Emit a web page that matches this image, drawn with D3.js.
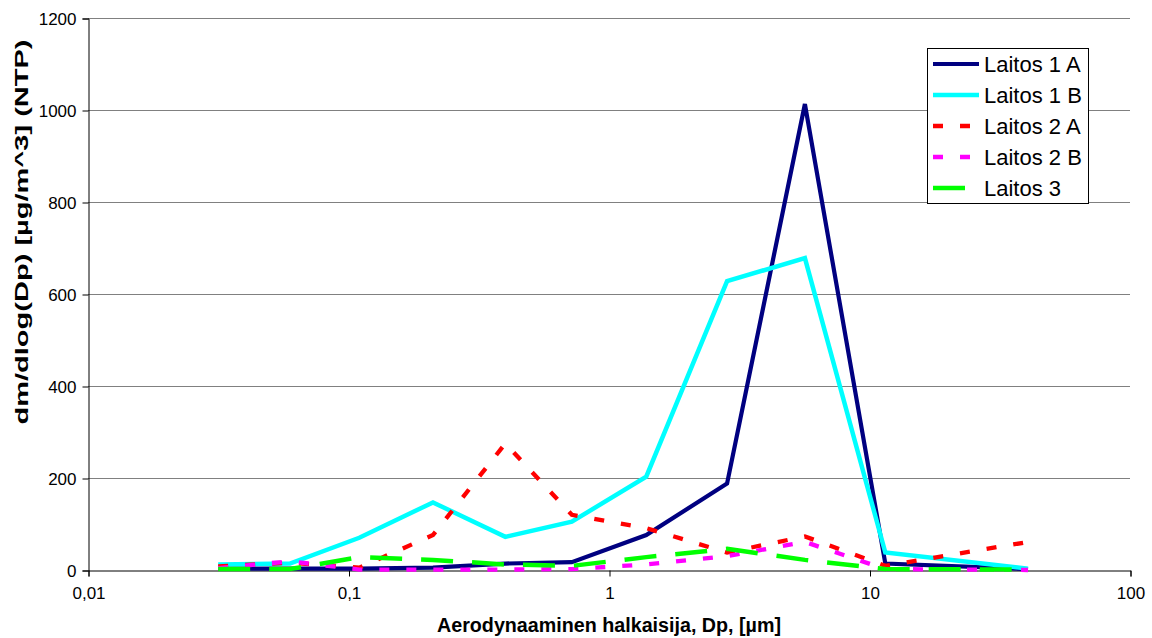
<!DOCTYPE html>
<html><head><meta charset="utf-8">
<script src="https://cdn.jsdelivr.net/npm/d3@7"></script>
<style>
body{margin:0;background:#fff;}
svg{display:block;font-family:Arial,"Liberation Sans",sans-serif;}
</style></head>
<body><svg id="c" width="1152" height="638"></svg>
<script>
// Data
const diameters = [0.0316, 0.0596, 0.110, 0.211, 0.40, 0.72, 1.39, 2.84, 5.65, 11.5, 40.6];
const seriesNames = ["Laitos 1 A", "Laitos 1 B", "Laitos 2 A", "Laitos 2 B", "Laitos 3"];
const laitos1A = [3, 3, 3, 5, 14, 17, 76, 188, 1013, 14, 2];
const laitos1B = [12, 14, 70, 147, 72, 105, 203, 628, 678, 38, 3];
const laitos2A = [8, 16, 5, 76, 275, 120, 91, 38, 73, 9, 61];
const laitos2B = [4, 19, 1, 1, 1, 2, 12, 30, 61, 2, 0];
const laitos3  = [2, 2, 28, 22, 12, 9, 28, 46, 22, 2, 1];
const yTicks = [0, 200, 400, 600, 800, 1000, 1200];
const xTicks = [0.01, 0.1, 1, 10, 100];
const xTickLabels = ["0,01", "0,1", "1", "10", "100"];

const series = [
  {name: seriesNames[0], values: laitos1A, color: "#000080", width: 4.2, dash: null},
  {name: seriesNames[1], values: laitos1B, color: "#00FFFF", width: 4.5, dash: null},
  {name: seriesNames[2], values: laitos2A, color: "#FF0000", width: 4.3, dash: "10,17"},
  {name: seriesNames[3], values: laitos2B, color: "#FF00FF", width: 4.3, dash: "10,17"},
  {name: seriesNames[4], values: laitos3,  color: "#00FF00", width: 4.5, dash: "32,19"}
];

const svg = d3.select("#c");
const x = d3.scaleLog().domain([0.01, 100]).range([88, 1130]);
const y = d3.scaleLinear().domain([0, 1200]).range([570, 18]);

// gridlines
svg.append("g").selectAll("line").data(yTicks.filter(d => d > 0)).join("line")
  .attr("x1", 88).attr("x2", 1130)
  .attr("y1", d => y(d) + 0.5).attr("y2", d => y(d) + 0.5)
  .attr("stroke", "#808080").attr("stroke-width", 1);

// y axis
const yAxis = svg.append("g").attr("transform", "translate(88.5,0.5)")
  .call(d3.axisLeft(y).tickValues(yTicks).tickSize(6).tickPadding(6).tickFormat(d3.format("d")));
yAxis.select(".domain").attr("stroke", "#000");
yAxis.selectAll(".tick line").attr("stroke", "#000");
yAxis.selectAll(".tick text").attr("font-size", 17).attr("fill", "#000")
  .attr("font-family", "Arial, 'Liberation Sans', sans-serif").attr("dy", "0.36em");

// x axis
const xAxis = svg.append("g").attr("transform", "translate(0.5,570.5)")
  .call(d3.axisBottom(x).tickValues(xTicks).tickSize(6).tickPadding(10)
    .tickFormat((d, i) => xTickLabels[i]));
xAxis.select(".domain").attr("stroke", "#000");
xAxis.selectAll(".tick line").attr("stroke", "#000");
xAxis.selectAll(".tick text").attr("font-size", 17).attr("fill", "#000")
  .attr("font-family", "Arial, 'Liberation Sans', sans-serif");

// lines
const line = d3.line().x((d, i) => x(diameters[i])).y(d => y(d));
svg.append("g").selectAll("path").data(series).join("path")
  .attr("d", s => line(s.values))
  .attr("fill", "none")
  .attr("stroke", s => s.color)
  .attr("stroke-width", s => s.width)
  .attr("stroke-dasharray", s => s.dash)
  .attr("stroke-linejoin", "miter")
  .attr("stroke-linecap", "butt");

// axis titles
svg.append("text").attr("x", 609).attr("y", 632).attr("text-anchor", "middle")
  .attr("font-size", 19.5).attr("font-weight", "bold")
  .attr("textLength", 344).attr("lengthAdjust", "spacingAndGlyphs")
  .text("Aerodynaaminen halkaisija, Dp, [µm]");
svg.append("text").attr("transform", "translate(28,232) rotate(-90)").attr("text-anchor", "middle")
  .attr("font-size", 18).attr("font-weight", "bold")
  .attr("textLength", 385).attr("lengthAdjust", "spacingAndGlyphs")
  .text("dm/dlog(Dp) [µg/m^3] (NTP)");

// legend
const lg = svg.append("g");
lg.append("rect").attr("x", 927.5).attr("y", 48.5).attr("width", 161).attr("height", 155)
  .attr("fill", "#fff").attr("stroke", "#000").attr("stroke-width", 1);
const rowY = [64, 95, 126, 157, 188];
const items = lg.selectAll("g.item").data(series).join("g").attr("class", "item")
  .attr("transform", (d, i) => `translate(0,${rowY[i]})`);
items.append("line").attr("x1", 933).attr("x2", 979).attr("y1", 0).attr("y2", 0)
  .attr("stroke", d => d.color).attr("stroke-width", d => d.width)
  .attr("stroke-dasharray", d => d.dash);
items.append("text").attr("x", 984).attr("y", 0).attr("dy", "0.36em")
  .attr("font-size", 22).attr("fill", "#000").text(d => d.name);
</script></body></html>
